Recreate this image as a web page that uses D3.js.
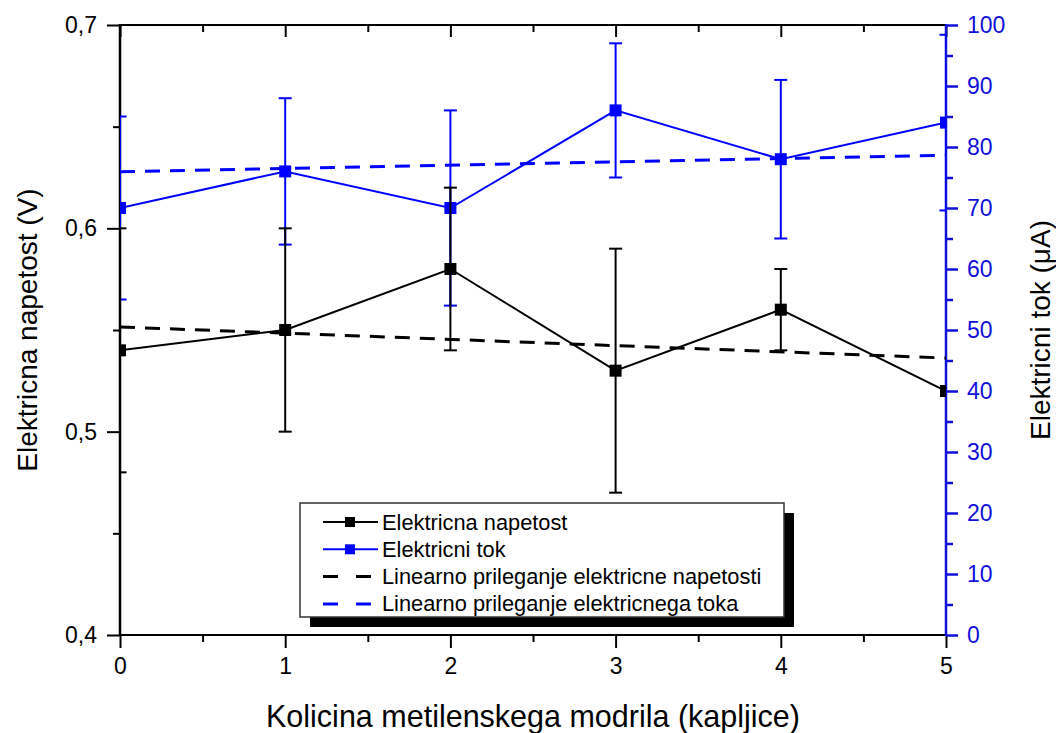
<!DOCTYPE html>
<html>
<head>
<meta charset="utf-8">
<script src="https://cdn.jsdelivr.net/npm/d3@7/dist/d3.min.js"></script>
<style>
  html, body { margin: 0; padding: 0; background: #ffffff; }
  svg { display: block; font-family: "Liberation Sans", Arial, sans-serif; }
</style>
</head>
<body>
<svg id="chart" width="1056" height="733"></svg>
<script>
// Number of methylene blue drops
const drops = [0, 1, 2, 3, 4, 5];

// Voltage (V) with error
const voltage = [0.54, 0.55, 0.58, 0.53, 0.56, 0.52];
const voltageErr = [0.06, 0.05, 0.04, 0.06, 0.02, 0.0];

// Current (µA) with error
const current = [70, 76, 70, 86, 78, 84];
const currentErr = [15, 12, 16, 11, 13, 14.4];

// Linear fits, given at the ends of the x range
const fitX = [0, 5];
const fitVoltage = [0.5515, 0.5362];
const fitCurrent = [75.95, 78.65];

// Axis ticks
const xMajor = [0, 1, 2, 3, 4, 5];
const xMinor = [0.5, 1.5, 2.5, 3.5, 4.5];
const yLeftMajor = [0.4, 0.5, 0.6, 0.7];
const yLeftMinor = [0.45, 0.55, 0.65];
const yRightMajor = [0, 10, 20, 30, 40, 50, 60, 70, 80, 90, 100];
const yRightMinor = [5, 15, 25, 35, 45, 55, 65, 75, 85, 95];

const legendLabels = [
  "Elektricna napetost",
  "Elektricni tok",
  "Linearno prileganje elektricne napetosti",
  "Linearno prileganje elektricnega toka"
];

const BLACK = "#000000";
const BLUE = "#0000ff";
const AXIS_BLUE = "#1010d8";

const svg = d3.select("#chart");
const pLeft = 120, pRight = 946, pTop = 25, pBottom = 635;

const x = d3.scaleLinear().domain([0, 5]).range([pLeft, pRight]);
const yL = d3.scaleLinear().domain([0.4, 0.7]).range([pBottom, pTop]);
const yR = d3.scaleLinear().domain([0, 100]).range([pBottom, pTop]);

const comma = d => d3.format(".1f")(d).replace(".", ",");

// clip region for the plotted data
svg.append("defs").append("clipPath").attr("id", "plotClip")
  .append("rect").attr("x", pLeft).attr("y", pTop)
  .attr("width", pRight - pLeft).attr("height", pBottom - pTop);

// ---- axes ----
function styleAxis(g, color, width) {
  g.select(".domain").remove();
  g.selectAll("line").attr("stroke", color).attr("stroke-width", width);
  g.selectAll("text").attr("fill", color)
    .attr("font-size", 23).attr("font-family", "Liberation Sans, Arial, sans-serif");
}

// bottom
svg.append("g").attr("transform", `translate(0,${pBottom})`)
  .call(d3.axisBottom(x).tickValues(xMajor).tickSize(13).tickPadding(10).tickFormat(d3.format("d")))
  .call(g => styleAxis(g, BLACK, 2));
svg.append("g").attr("transform", `translate(0,${pBottom})`)
  .call(d3.axisBottom(x).tickValues(xMinor).tickSize(7).tickFormat(""))
  .call(g => styleAxis(g, BLACK, 2));

// top (inward ticks)
svg.append("g").attr("transform", `translate(0,${pTop})`)
  .call(d3.axisBottom(x).tickValues(xMajor).tickSize(12).tickFormat(""))
  .call(g => styleAxis(g, BLACK, 2));
svg.append("g").attr("transform", `translate(0,${pTop})`)
  .call(d3.axisBottom(x).tickValues(xMinor).tickSize(7).tickFormat(""))
  .call(g => styleAxis(g, BLACK, 2));

// left
svg.append("g").attr("transform", `translate(${pLeft},0)`)
  .call(d3.axisLeft(yL).tickValues(yLeftMajor).tickSize(13).tickPadding(10).tickFormat(comma))
  .call(g => styleAxis(g, BLACK, 2));
svg.append("g").attr("transform", `translate(${pLeft},0)`)
  .call(d3.axisLeft(yL).tickValues(yLeftMinor).tickSize(7).tickFormat(""))
  .call(g => styleAxis(g, BLACK, 2));

// right (blue)
svg.append("g").attr("transform", `translate(${pRight},0)`)
  .call(d3.axisRight(yR).tickValues(yRightMajor).tickSize(12).tickPadding(9).tickFormat(d3.format("d")))
  .call(g => styleAxis(g, AXIS_BLUE, 2.5));
svg.append("g").attr("transform", `translate(${pRight},0)`)
  .call(d3.axisRight(yR).tickValues(yRightMinor).tickSize(7).tickFormat(""))
  .call(g => styleAxis(g, AXIS_BLUE, 2.5));

// frame lines
svg.append("line").attr("x1", pLeft).attr("x2", pRight).attr("y1", pTop).attr("y2", pTop)
  .attr("stroke", BLACK).attr("stroke-width", 2);
svg.append("line").attr("x1", pLeft).attr("x2", pRight).attr("y1", pBottom).attr("y2", pBottom)
  .attr("stroke", BLACK).attr("stroke-width", 2);
svg.append("line").attr("x1", pLeft).attr("x2", pLeft).attr("y1", pTop - 1).attr("y2", pBottom + 1)
  .attr("stroke", BLACK).attr("stroke-width", 2.5);
svg.append("line").attr("x1", pRight).attr("x2", pRight).attr("y1", pTop - 1).attr("y2", pBottom + 1)
  .attr("stroke", AXIS_BLUE).attr("stroke-width", 2.5);

// ---- data ----
const plot = svg.append("g").attr("clip-path", "url(#plotClip)");

function fitLine(values, scale, color) {
  plot.append("path")
    .datum(fitX.map((d, i) => [d, values[i]]))
    .attr("d", d3.line().x(d => x(d[0])).y(d => scale(d[1])))
    .attr("fill", "none").attr("stroke", color)
    .attr("stroke-width", 3).attr("stroke-dasharray", "15,10");
}

function series(values, errs, scale, color) {
  const g = plot.append("g");
  const cap = 6.5;
  drops.forEach((d, i) => {
    if (errs[i] <= 0) return;
    const cx = x(d), yt = scale(values[i] + errs[i]), yb = scale(values[i] - errs[i]);
    g.append("line").attr("x1", cx).attr("x2", cx).attr("y1", yt).attr("y2", yb)
      .attr("stroke", color).attr("stroke-width", 2);
    [yt, yb].forEach(yy => g.append("line")
      .attr("x1", cx - cap).attr("x2", cx + cap).attr("y1", yy).attr("y2", yy)
      .attr("stroke", color).attr("stroke-width", 2));
  });
  g.append("path")
    .datum(drops.map((d, i) => [d, values[i]]))
    .attr("d", d3.line().x(d => x(d[0])).y(d => scale(d[1])))
    .attr("fill", "none").attr("stroke", color).attr("stroke-width", 2);
  const s = 12;
  g.selectAll("rect.m").data(drops).enter().append("rect")
    .attr("x", d => x(d) - s / 2).attr("y", (d, i) => scale(values[i]) - s / 2)
    .attr("width", s).attr("height", s).attr("fill", color);
}

fitLine(fitVoltage, yL, BLACK);
fitLine(fitCurrent, yR, BLUE);
series(current, currentErr, yR, BLUE);
series(voltage, voltageErr, yL, BLACK);

// ---- axis titles ----
svg.append("text")
  .attr("x", (pLeft + pRight) / 2).attr("y", 727)
  .attr("text-anchor", "middle").attr("font-size", 30.5).attr("fill", BLACK)
  .text("Kolicina metilenskega modrila (kapljice)");

svg.append("text")
  .attr("transform", `translate(37,${(pTop + pBottom) / 2}) rotate(-90)`)
  .attr("text-anchor", "middle").attr("font-size", 28).attr("fill", BLACK)
  .text("Elektricna napetost (V)");

svg.append("text")
  .attr("transform", `translate(1050,${(pTop + pBottom) / 2}) rotate(-90)`)
  .attr("text-anchor", "middle").attr("font-size", 28).attr("fill", BLACK)
  .text("Elektricni tok (μA)");

// ---- legend ----
const lg = svg.append("g");
const lx = 300, ly = 503, lw = 484, lh = 114, sh = 10;
lg.append("rect").attr("x", lx + sh).attr("y", ly + sh).attr("width", lw).attr("height", lh)
  .attr("fill", BLACK);
lg.append("rect").attr("x", lx).attr("y", ly).attr("width", lw).attr("height", lh)
  .attr("fill", "#ffffff").attr("stroke", "#333333").attr("stroke-width", 1.5);

const legendItems = [
  { color: BLACK, marker: true, dashed: false },
  { color: BLUE, marker: true, dashed: false },
  { color: BLACK, marker: false, dashed: true },
  { color: BLUE, marker: false, dashed: true }
];
legendItems.forEach((it, i) => {
  const yy = 522 + i * 27.3;
  const row = lg.append("g");
  row.append("line").attr("x1", 323).attr("x2", it.dashed ? 371 : 378).attr("y1", yy).attr("y2", yy)
    .attr("stroke", it.color).attr("stroke-width", it.dashed ? 3 : 2)
    .attr("stroke-dasharray", it.dashed ? "15,18" : null);
  if (it.marker) {
    row.append("rect").attr("x", 345).attr("y", yy - 5).attr("width", 10).attr("height", 10)
      .attr("fill", it.color);
  }
  row.append("text").attr("x", 382).attr("y", yy + 7.5)
    .attr("font-size", 21.8).attr("fill", BLACK).text(legendLabels[i]);
});
</script>
</body>
</html>
